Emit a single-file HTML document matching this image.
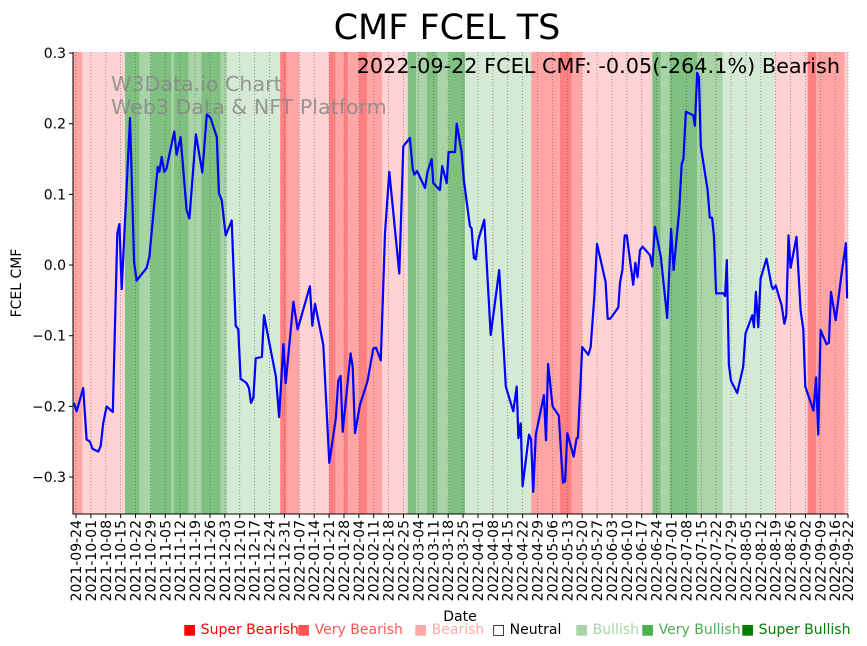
<!DOCTYPE html>
<html><head><meta charset="utf-8">
<style>
html,body{margin:0;padding:0;background:#fff;}
svg{display:block;font-family:"DejaVu Sans","Liberation Sans",sans-serif;}
</style></head>
<body>
<svg id="chart" width="867" height="646" viewBox="0 0 867 646">
<text x="447" y="39" font-size="35" text-anchor="middle" fill="#000">CMF FCEL TS</text>
<g id="bands"></g>
<g id="grid"></g>
<text x="111" y="91" font-size="20.6" fill="#888" fill-opacity="0.85">W3Data.io Chart</text>
<text x="111" y="114" font-size="20.6" fill="#888" fill-opacity="0.85">Web3 Data &amp; NFT Platform</text>
<path id="line" fill="none" stroke="#0000ff" stroke-width="2.2" stroke-linejoin="round"/>
<text x="840" y="73" font-size="20.8" text-anchor="end" fill="#000">2022-09-22 FCEL CMF: -0.05(-264.1%) Bearish</text>
<g id="axes"></g>
<text x="460" y="621" font-size="14" text-anchor="middle">Date</text>
<text transform="translate(21,283) rotate(-90)" font-size="14" text-anchor="middle">FCEL CMF</text>
<g font-size="14">
<text x="183" y="634" fill="#ff0000">■ Super Bearish</text>
<text x="297" y="634" fill="#ff5555">■ Very Bearish</text>
<text x="414" y="634" fill="#ffaaaa">■ Bearish</text>
<text x="492" y="634" fill="#000">□ Neutral</text>
<text x="575" y="634" fill="#a8d5a8">■ Bullish</text>
<text x="641" y="634" fill="#4caf50">■ Very Bullish</text>
<text x="741" y="634" fill="#008000">■ Super Bullish</text>
</g>
</svg>
<script>
// day offsets from 2021-09-24
const days = [-1,0.3,3.4,5,6.6,7.7,10.5,11.6,12.8,14.4,17.3,19.4,20.4,21.5,25.4,27.3,28.5,33.2,34.5,38.4,39.2,40.3,41.5,42.5,46.2,47.3,49.2,52,53.3,56.4,59.4,61.5,63.3,66.2,67.2,68.5,70.4,73.2,75.1,76.3,77.4,80.2,81.3,82.3,83.4,84.5,87.4,88.4,94,95.5,97.5,98.6,102.2,104.2,110,111.1,112.4,116.3,119.1,122.2,123.3,124.4,125.4,129.1,130.1,131.2,133.5,137,139.8,141.1,143.3,145.3,147.3,152,153.9,157,158.3,159.1,160.4,164.1,165.3,167.2,168,171.1,172.2,174.3,175.2,178.2,179,181.3,182.4,185.2,186,187.1,188,189.1,192,195,199,202.1,205.6,207.2,208,209.1,210,213,214,215,216.2,220,221,222,224.1,227,228.3,229,230,231,234,235.4,236,238,240.9,242,243.7,245,249,250,251,252.2,255,255.8,256.9,258,259,262,263,264,265.2,266.4,269.9,271,272.2,275,278,279.8,281,283.6,284.8,285.6,286.8,290.2,291,292.1,292.9,293.8,297,298,299.1,300,301,304.4,305.2,306,307,308,310.9,313.7,314.8,318,318.8,319.7,320.8,321.9,324.7,327.1,327.8,329,331.8,333.1,334,335,336,338.8,340.7,342,342.9,346.8,348,349,350.1,352.9,354,355,357.2,360,362,362.6];
const cmf = [-0.195,-0.207,-0.174,-0.247,-0.25,-0.26,-0.264,-0.256,-0.224,-0.2,-0.208,0.045,0.058,-0.034,0.208,0.004,-0.022,-0.004,0.012,0.139,0.132,0.153,0.132,0.136,0.189,0.156,0.181,0.078,0.066,0.185,0.131,0.213,0.208,0.181,0.102,0.092,0.042,0.063,-0.086,-0.091,-0.161,-0.167,-0.174,-0.195,-0.188,-0.132,-0.13,-0.071,-0.158,-0.215,-0.112,-0.167,-0.052,-0.091,-0.03,-0.086,-0.055,-0.113,-0.28,-0.216,-0.164,-0.157,-0.236,-0.125,-0.144,-0.238,-0.198,-0.165,-0.118,-0.117,-0.135,0.045,0.132,-0.012,0.168,0.18,0.136,0.128,0.133,0.109,0.132,0.15,0.116,0.106,0.14,0.116,0.16,0.16,0.2,0.16,0.12,0.055,0.052,0.01,0.008,0.035,0.064,-0.099,-0.007,-0.172,-0.207,-0.172,-0.245,-0.224,-0.313,-0.24,-0.247,-0.321,-0.24,-0.184,-0.248,-0.14,-0.2,-0.213,-0.276,-0.308,-0.306,-0.238,-0.271,-0.245,-0.245,-0.116,-0.127,-0.116,-0.045,0.03,-0.024,-0.076,-0.076,-0.072,-0.06,-0.025,-0.007,0.042,0.042,-0.028,0.003,-0.017,0.021,0.026,0.014,-0.002,0.054,0.012,-0.075,0.051,-0.007,0.075,0.143,0.15,0.217,0.212,0.197,0.272,0.266,0.168,0.106,0.067,0.067,0.04,-0.04,-0.04,-0.044,0.007,-0.141,-0.164,-0.181,-0.144,-0.097,-0.071,-0.088,-0.038,-0.088,-0.019,0.009,-0.03,-0.034,-0.029,-0.057,-0.083,-0.071,0.042,-0.004,0.04,-0.064,-0.091,-0.172,-0.206,-0.159,-0.24,-0.092,-0.112,-0.11,-0.038,-0.078,-0.012,0.031,-0.047];
// sentiment band starts (day offset) and levels (-3..3)
const bandStarts = [-2,3,23,30,35,45,46,53,59,68,71,96,99,105,119,122,126,128,133,137,144,156,160,165,170,175,183,214,227.5,233,238,271,275,279,292,304,328.6,344,348,361.5];
const bandLevels = [-2,-1,3,2,3,2,3,2,3,2,1,-3,-2,-1,-3,-2,-3,-2,-3,-2,-1,3,2,3,2,3,1,-2,-3,-2,-1,3,2,3,2,1,-1,-3,-2,-1];
const yTicks = [0.3,0.2,0.1,0.0,-0.1,-0.2,-0.3];
const yTickLabels = ["0.3","0.2","0.1","0.0","\u22120.1","\u22120.2","\u22120.3"];
// x tick day offsets: weekly plus final date
const xTickDays = [0,7,14,21,28,35,42,49,56,63,70,77,84,91,98,105,112,119,126,133,140,147,154,161,168,175,182,189,196,203,210,217,224,231,238,245,252,259,266,273,280,287,294,301,308,315,322,329,336,343,350,357,363];

const L=73,R=848,T=52,B=514;
const dMin=-1.41,dMax=363, vMin=-0.3523, vMax=0.3015;
const xs=d=>L+(d-dMin)/(dMax-dMin)*(R-L);
const ys=v=>B-(v-vMin)/(vMax-vMin)*(B-T);
const NS='http://www.w3.org/2000/svg';
const colors={'-3':'#ff8080','-2':'#ffa5a5','-1':'#ffd3d3','0':'#ffffff','1':'#d5ead5','2':'#a8d4a8','3':'#80c080'};
const bandsG=document.getElementById('bands');
for(let i=0;i<bandStarts.length;i++){
  const s=Math.max(bandStarts[i],dMin), e=Math.min(i+1<bandStarts.length?bandStarts[i+1]:dMax,dMax);
  const r=document.createElementNS(NS,'rect');
  r.setAttribute('x',xs(s));r.setAttribute('y',T);
  r.setAttribute('width',Math.max(0,xs(e)-xs(s)));r.setAttribute('height',B-T);
  r.setAttribute('fill',colors[bandLevels[i]]);
  
  
  bandsG.appendChild(r);
}
const start=new Date(Date.UTC(2021,8,24));
const gridG=document.getElementById('grid'), axesG=document.getElementById('axes');
xTickDays.forEach(d=>{
  const x=xs(d);
  const dt=new Date(start.getTime()+d*86400000);
  const lbl=dt.toISOString().slice(0,10);
  const g=document.createElementNS(NS,'line');
  g.setAttribute('x1',x);g.setAttribute('x2',x);g.setAttribute('y1',T);g.setAttribute('y2',B);
  g.setAttribute('stroke','#555');g.setAttribute('stroke-width','0.8');g.setAttribute('stroke-dasharray','1,2');g.setAttribute('stroke-opacity','0.7');
  
  
  gridG.appendChild(g);
  const t=document.createElementNS(NS,'line');
  t.setAttribute('x1',x);t.setAttribute('x2',x);t.setAttribute('y1',B);t.setAttribute('y2',B+4);t.setAttribute('stroke','#000');
  
  
  axesG.appendChild(t);
  const tx=document.createElementNS(NS,'text');
  tx.setAttribute('transform','translate('+(x+5)+','+(B+6)+') rotate(-90)');
  tx.setAttribute('text-anchor','end');tx.setAttribute('font-size','14');
  tx.textContent=lbl;
  
  
  axesG.appendChild(tx);
});
yTicks.forEach((v,i)=>{
  const y=ys(v);
  const t=document.createElementNS(NS,'line');
  t.setAttribute('x1',L-4);t.setAttribute('x2',L);t.setAttribute('y1',y);t.setAttribute('y2',y);t.setAttribute('stroke','#000');
  
  
  axesG.appendChild(t);
  const tx=document.createElementNS(NS,'text');
  tx.setAttribute('x',L-7);tx.setAttribute('y',y+5);tx.setAttribute('text-anchor','end');tx.setAttribute('font-size','14');
  tx.textContent=yTickLabels[i];
  
  
  axesG.appendChild(tx);
});
const ax=document.createElementNS(NS,'path');
ax.setAttribute('d','M'+L+' '+T+' L'+L+' '+B+' L'+R+' '+B);
ax.setAttribute('stroke','#000');ax.setAttribute('fill','none');ax.setAttribute('stroke-width','1');


axesG.appendChild(ax);
let p='';
days.forEach((d,i)=>{p+=(i?'L':'M')+xs(d).toFixed(1)+' '+ys(cmf[i]).toFixed(1)+' ';});
document.getElementById('line').setAttribute('d',p);
</script>
</body></html>
